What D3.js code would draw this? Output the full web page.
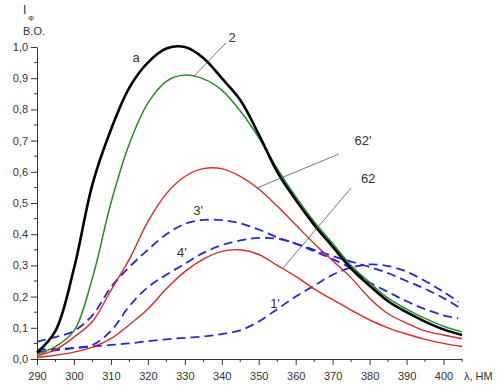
<!DOCTYPE html>
<html>
<head>
<meta charset="utf-8">
<script src="https://cdn.jsdelivr.net/npm/d3@7"></script>
<style>
  body { margin: 0; background: #fff; }
  text { font-family: "Liberation Sans", Arial, sans-serif; fill: #333; }
  .tick text { font-size: 11px; }
  .curve { fill: none; }
  .lead { stroke: #555; stroke-width: 0.8; }
</style>
</head>
<body>
<div id="chart"></div>
<script>
// wavelength grid (nm)
var lambda = [290, 295, 300, 305, 310, 315, 320, 325, 330, 335, 340, 345, 350,
              355, 360, 365, 370, 375, 380, 385, 390, 395, 400, 405];

// solid curves
var curveA   = [0.02, 0.09, 0.29, 0.56, 0.735, 0.87, 0.95, 0.995, 1.0, 0.965, 0.90, 0.83, 0.72,
                0.60, 0.51, 0.43, 0.36, 0.29, 0.235, 0.185, 0.15, 0.12, 0.095, 0.077];
var curve2   = [0.015, 0.04, 0.09, 0.26, 0.50, 0.69, 0.82, 0.89, 0.91, 0.898, 0.862, 0.795, 0.71,
                0.61, 0.52, 0.44, 0.37, 0.30, 0.245, 0.195, 0.16, 0.13, 0.105, 0.087];
var curve62p = [0.01, 0.03, 0.07, 0.12, 0.22, 0.32, 0.44, 0.53, 0.585, 0.61, 0.61, 0.585, 0.545,
                0.49, 0.43, 0.37, 0.315, 0.26, 0.195, 0.145, 0.115, 0.09, 0.077, 0.065];
var curve62  = [0.005, 0.012, 0.022, 0.038, 0.065, 0.11, 0.16, 0.225, 0.28, 0.32, 0.345, 0.35, 0.335,
                0.30, 0.265, 0.225, 0.19, 0.157, 0.125, 0.10, 0.08, 0.063, 0.05, 0.04];

// dashed curves (end at 404 nm)
var lambdaD  = [290, 295, 300, 305, 310, 315, 320, 325, 330, 335, 340, 345, 350,
                355, 360, 365, 370, 375, 380, 385, 390, 395, 400, 404];
var curve1p  = [0.03, 0.032, 0.035, 0.04, 0.045, 0.05, 0.057, 0.063, 0.068, 0.072, 0.08, 0.092, 0.12,
                0.16, 0.20, 0.235, 0.27, 0.293, 0.303, 0.298, 0.28, 0.25, 0.215, 0.183];
var curve3p  = [0.055, 0.07, 0.09, 0.14, 0.23, 0.295, 0.35, 0.40, 0.433, 0.446, 0.445, 0.435, 0.415,
                0.39, 0.37, 0.35, 0.33, 0.312, 0.295, 0.275, 0.25, 0.225, 0.195, 0.167];
var curve4p  = [0.022, 0.028, 0.035, 0.045, 0.09, 0.17, 0.23, 0.27, 0.305, 0.34, 0.365, 0.38, 0.388,
                0.385, 0.37, 0.345, 0.32, 0.29, 0.245, 0.215, 0.185, 0.16, 0.14, 0.13];

var xTicks = [290, 300, 310, 320, 330, 340, 350, 360, 370, 380, 390, 400];
var yTicks = [0, 0.1, 0.2, 0.3, 0.4, 0.5, 0.6, 0.7, 0.8, 0.9, 1.0];

// curve labels and leader lines, in data units
var labels = [
  {t: "a",   x: 316.8, y: 0.952},
  {t: "2",   x: 342.8, y: 1.016},
  {t: "62'", x: 378.2, y: 0.686},
  {t: "62",  x: 379.6, y: 0.564},
  {t: "3'",  x: 333.6, y: 0.46},
  {t: "4'",  x: 329.2, y: 0.327},
  {t: "1'",  x: 354.4, y: 0.163}
];
var leaders = [
  [332.5, 0.907, 341.1, 1.013],
  [349.5, 0.548, 371.7, 0.657],
  [356.6, 0.292, 375.0, 0.548]
];

var width = 499, height = 385;
var svg = d3.select('#chart').append('svg')
    .attr('width', width).attr('height', height);

var x = d3.scaleLinear().domain([290, 405]).range([37, 462]);
var y = d3.scaleLinear().domain([0, 1]).range([359, 47]);

// axes
var xAxis = d3.axisBottom(x).tickValues(xTicks).tickSize(6).tickPadding(5).tickSizeOuter(0);
var gx = svg.append('g').attr('transform', 'translate(0,' + y(0) + ')').call(xAxis);
gx.selectAll('line, path').attr('stroke', '#333');
gx.selectAll('.tick text').attr('dy', '0.9em');
gx.selectAll('.minor').data(d3.range(295, 406, 10)).enter().append('line')
    .attr('x1', function(d) { return x(d); }).attr('x2', function(d) { return x(d); })
    .attr('y1', 0).attr('y2', 3).attr('stroke', '#333');

var yAxis = d3.axisLeft(y).tickValues(yTicks).tickSize(6).tickPadding(3).tickSizeOuter(0)
    .tickFormat(function(d) { return d3.format('.1f')(d).replace('.', ','); });
var gy = svg.append('g').attr('transform', 'translate(' + x(290) + ',0)').call(yAxis);
gy.selectAll('line, path').attr('stroke', '#333');
gy.selectAll('.minor').data(d3.range(0.05, 1, 0.1)).enter().append('line')
    .attr('y1', function(d) { return y(d); }).attr('y2', function(d) { return y(d); })
    .attr('x1', 0).attr('x2', -3).attr('stroke', '#333');

// axis titles
svg.append('text').attr('x', 23).attr('y', 14).style('font-size', '12px').text('I');
svg.append('text').attr('x', 28).attr('y', 21).style('font-size', '8px').text('Ф');
svg.append('text').attr('x', 23).attr('y', 35).style('font-size', '11px').text('В.О.');
svg.append('text').attr('x', 464).attr('y', 380).style('font-size', '11px').text('λ, НМ');

// curves
var line = d3.line().curve(d3.curveCatmullRom.alpha(0.5));
function draw(xs, ys, color, w, dash) {
  svg.append('path').attr('class', 'curve')
     .attr('d', line(xs.map(function(v, i) { return [x(v), y(ys[i])]; })))
     .attr('stroke', color).attr('stroke-width', w)
     .attr('stroke-dasharray', dash || null);
}
draw(lambdaD, curve1p, '#2828d0', 1.8, '9,5');
draw(lambdaD, curve3p, '#2828d0', 1.8, '9,5');
draw(lambdaD, curve4p, '#2828d0', 1.8, '9,5');
draw(lambda, curve62, '#e02828', 1.4);
draw(lambda, curve62p, '#e02828', 1.4);
draw(lambda, curve2, '#2a8a2a', 1.5);
draw(lambda, curveA, '#000', 2.6);

// leaders and labels
svg.selectAll('.lead').data(leaders).enter().append('line').attr('class', 'lead')
   .attr('x1', function(d) { return x(d[0]); }).attr('y1', function(d) { return y(d[1]); })
   .attr('x2', function(d) { return x(d[2]); }).attr('y2', function(d) { return y(d[3]); });
svg.selectAll('.lbl').data(labels).enter().append('text')
   .attr('x', function(d) { return x(d.x); }).attr('y', function(d) { return y(d.y); })
   .attr('text-anchor', 'middle').style('font-size', '13px')
   .text(function(d) { return d.t; });
</script>
</body>
</html>
